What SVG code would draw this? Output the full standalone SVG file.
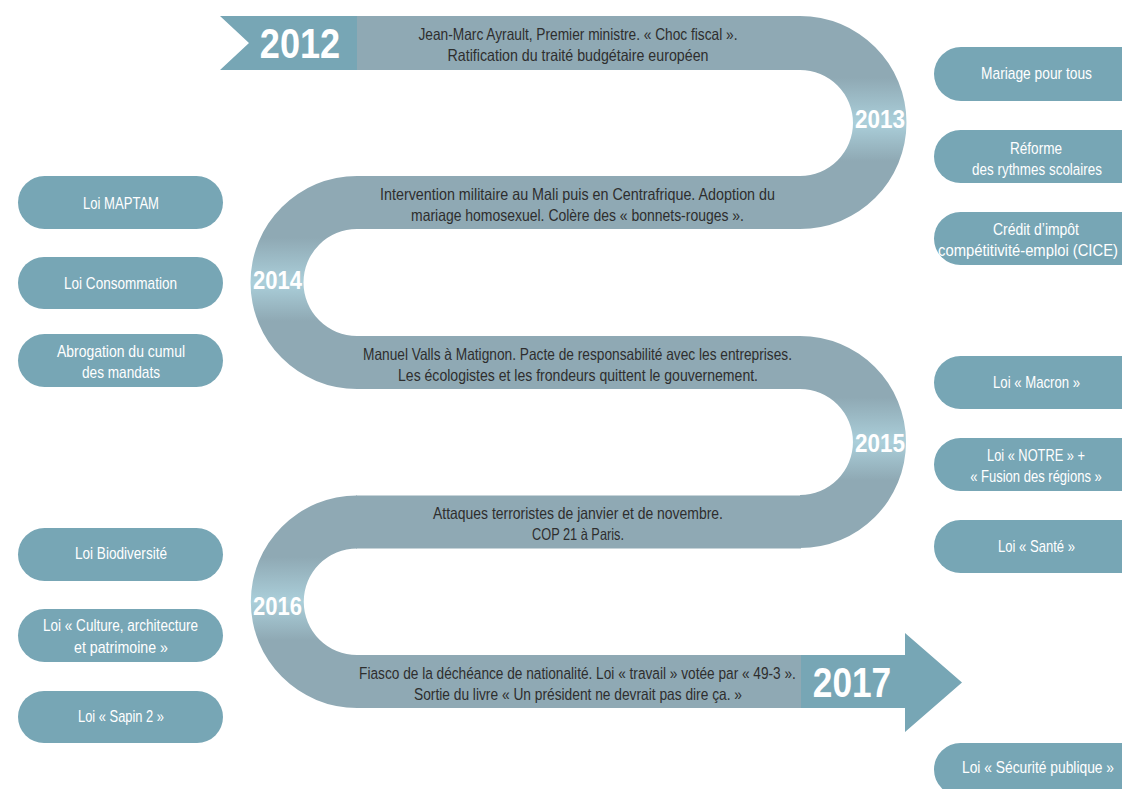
<svg xmlns="http://www.w3.org/2000/svg" width="1122" height="789" viewBox="0 0 1122 789">
<defs>
<linearGradient id="curveGrad" x1="0" y1="0" x2="0" y2="1">
<stop offset="0" stop-color="#8fa9b4"/>
<stop offset="0.29" stop-color="#8fa9b4"/>
<stop offset="0.5" stop-color="#abcfda"/>
<stop offset="0.68" stop-color="#8fa9b4"/>
<stop offset="1" stop-color="#8fa9b4"/>
</linearGradient>
<style>
.band{fill:#8fa9b4}
.curve{fill:url(#curveGrad)}
.teal{fill:#77a6b5}
.pill{fill:#77a6b5}
.ev{font-family:"Liberation Sans",Arial,sans-serif;font-size:16.5px;fill:#2e2e2e;text-anchor:middle}
.pt{font-family:"Liberation Sans",Arial,sans-serif;font-size:17px;fill:#ffffff;text-anchor:middle}
.yr{font-family:"Liberation Sans",Arial,sans-serif;font-weight:bold;fill:#ffffff;text-anchor:middle}
.ys{font-size:25px}
.yb{font-size:42px}
</style>
</defs>
<rect width="1122" height="789" fill="#ffffff"/>

<g id="connectors">
<path class="curve" d="M800,16 A106.5,106.5 0 0 1 800,229 L800,176 A53,53 0 0 0 800,70 Z"/>
<path class="curve" d="M357,176 A106.5,106.5 0 0 0 357,389 L357,336 A53.5,53.5 0 0 1 357,229 Z"/>
<path class="curve" d="M800,336 A106,106 0 0 1 800,548 L800,495 A53,53 0 0 0 800,389 Z"/>
<path class="curve" d="M357,495.5 A106.25,106.25 0 0 0 357,708 L357,655 A53.25,53.25 0 0 1 357,548.5 Z"/>
</g>

<g id="start-2012">
<polygon class="teal" points="220,16 357,16 357,70 220,70 249,43"/>
<text class="yr yb" transform="translate(300,58) scale(0.86,1)" x="0" y="0">2012</text>
</g>

<g id="event-2012">
<rect class="band" x="357" y="16" width="444" height="54"/>
<text class="ev" x="578" y="40" textLength="319" lengthAdjust="spacingAndGlyphs">Jean-Marc Ayrault, Premier ministre. « Choc fiscal ».</text>
<text class="ev" x="578" y="61" textLength="261" lengthAdjust="spacingAndGlyphs">Ratification du traité budgétaire européen</text>
</g>

<g id="year-2013">
<text class="yr ys" x="880" y="128" textLength="50" lengthAdjust="spacingAndGlyphs">2013</text>
</g>

<g id="event-2013">
<rect class="band" x="356" y="176" width="445" height="53"/>
<text class="ev" x="577.5" y="200" textLength="395" lengthAdjust="spacingAndGlyphs">Intervention militaire au Mali puis en Centrafrique. Adoption du</text>
<text class="ev" x="577.5" y="221" textLength="333" lengthAdjust="spacingAndGlyphs">mariage homosexuel. Colère des « bonnets-rouges ».</text>
</g>

<g id="year-2014">
<text class="yr ys" x="277.5" y="289" textLength="49" lengthAdjust="spacingAndGlyphs">2014</text>
</g>

<g id="event-2014">
<rect class="band" x="356" y="336" width="445" height="53"/>
<text class="ev" x="577.5" y="360" textLength="429" lengthAdjust="spacingAndGlyphs">Manuel Valls à Matignon. Pacte de responsabilité avec les entreprises.</text>
<text class="ev" x="578" y="381" textLength="360" lengthAdjust="spacingAndGlyphs">Les écologistes et les frondeurs quittent le gouvernement.</text>
</g>

<g id="year-2015">
<text class="yr ys" x="880" y="452" textLength="50" lengthAdjust="spacingAndGlyphs">2015</text>
</g>

<g id="event-2015">
<rect class="band" x="356" y="495.5" width="445" height="53"/>
<text class="ev" x="578" y="519" textLength="290" lengthAdjust="spacingAndGlyphs">Attaques terroristes de janvier et de novembre.</text>
<text class="ev" x="578" y="540" textLength="92" lengthAdjust="spacingAndGlyphs">COP 21 à Paris.</text>
</g>

<g id="year-2016">
<text class="yr ys" x="277.5" y="615" textLength="49" lengthAdjust="spacingAndGlyphs">2016</text>
</g>

<g id="event-2016">
<rect class="band" x="356" y="655" width="446" height="53"/>
<text class="ev" transform="translate(577.5,679) scale(0.829,1)" x="0" y="0">Fiasco de la déchéance de nationalité. Loi « travail » votée par « 49-3 ».</text>
<text class="ev" x="578" y="700" textLength="328" lengthAdjust="spacingAndGlyphs">Sortie du livre « Un président ne devrait pas dire ça. »</text>
</g>

<g id="end-2017">
<polygon class="teal" points="801,655 905,655 905,633 962,682.5 905,732 905,708 801,708"/>
<text class="yr yb" transform="translate(852,697) scale(0.84,1)" x="0" y="0">2017</text>
</g>

<g id="pill-maptam">
<rect class="pill" x="18" y="176" width="205" height="53" rx="26.5"/>
<text class="pt" x="121" y="209" textLength="76" lengthAdjust="spacingAndGlyphs">Loi MAPTAM</text>
</g>
<g id="pill-consommation">
<rect class="pill" x="18" y="257" width="205" height="52" rx="26"/>
<text class="pt" x="120.5" y="289" textLength="113" lengthAdjust="spacingAndGlyphs">Loi Consommation</text>
</g>
<g id="pill-cumul">
<rect class="pill" x="18" y="334" width="205" height="53" rx="26.5"/>
<text class="pt" x="121" y="357" textLength="128" lengthAdjust="spacingAndGlyphs">Abrogation du cumul</text>
<text class="pt" x="121" y="378" textLength="78" lengthAdjust="spacingAndGlyphs">des mandats</text>
</g>
<g id="pill-biodiversite">
<rect class="pill" x="18" y="528" width="205" height="53" rx="26.5"/>
<text class="pt" x="121" y="559" textLength="92" lengthAdjust="spacingAndGlyphs">Loi Biodiversité</text>
</g>
<g id="pill-culture">
<rect class="pill" x="18" y="609" width="205" height="53" rx="26.5"/>
<text class="pt" x="120.5" y="631" textLength="155" lengthAdjust="spacingAndGlyphs">Loi « Culture, architecture</text>
<text class="pt" x="121" y="653" textLength="94" lengthAdjust="spacingAndGlyphs">et patrimoine »</text>
</g>
<g id="pill-sapin">
<rect class="pill" x="18" y="691" width="205" height="52" rx="26"/>
<text class="pt" x="121" y="722" textLength="86" lengthAdjust="spacingAndGlyphs">Loi « Sapin 2 »</text>
</g>

<g id="pill-mariage">
<path class="pill" d="M961,47 H1122 V101 H961 A27,27 0 0 1 961,47 Z"/>
<text class="pt" x="1036.5" y="79" textLength="111" lengthAdjust="spacingAndGlyphs">Mariage pour tous</text>
</g>
<g id="pill-rythmes">
<path class="pill" d="M960.5,130 H1122 V183 H960.5 A26.5,26.5 0 0 1 960.5,130 Z"/>
<text class="pt" x="1036" y="154" textLength="52" lengthAdjust="spacingAndGlyphs">Réforme</text>
<text class="pt" transform="translate(1037,175) scale(0.791,1)" x="0" y="0">des rythmes scolaires</text>
</g>
<g id="pill-cice">
<path class="pill" d="M960.5,212 H1122 V265 H960.5 A26.5,26.5 0 0 1 960.5,212 Z"/>
<text class="pt" x="1036" y="235" textLength="86" lengthAdjust="spacingAndGlyphs">Crédit d’impôt</text>
<text class="pt" transform="translate(1028,256) scale(0.87,1)" x="0" y="0">compétitivité-emploi (CICE)</text>
</g>
<g id="pill-macron">
<path class="pill" d="M960.5,356 H1122 V409 H960.5 A26.5,26.5 0 0 1 960.5,356 Z"/>
<text class="pt" x="1036.5" y="388" textLength="87" lengthAdjust="spacingAndGlyphs">Loi « Macron »</text>
</g>
<g id="pill-notre">
<path class="pill" d="M960.5,438 H1122 V491 H960.5 A26.5,26.5 0 0 1 960.5,438 Z"/>
<text class="pt" x="1036" y="461" textLength="98" lengthAdjust="spacingAndGlyphs">Loi « NOTRE » +</text>
<text class="pt" transform="translate(1036,482) scale(0.767,1)" x="0" y="0">« Fusion des régions »</text>
</g>
<g id="pill-sante">
<path class="pill" d="M960.5,520 H1122 V573 H960.5 A26.5,26.5 0 0 1 960.5,520 Z"/>
<text class="pt" x="1036.5" y="552" textLength="77" lengthAdjust="spacingAndGlyphs">Loi « Santé »</text>
</g>
<g id="pill-securite">
<path class="pill" d="M960.5,743 H1122 V796 H960.5 A26.5,26.5 0 0 1 960.5,743 Z"/>
<text class="pt" transform="translate(1038,773) scale(0.813,1)" x="0" y="0">Loi « Sécurité publique »</text>
</g>
</svg>
